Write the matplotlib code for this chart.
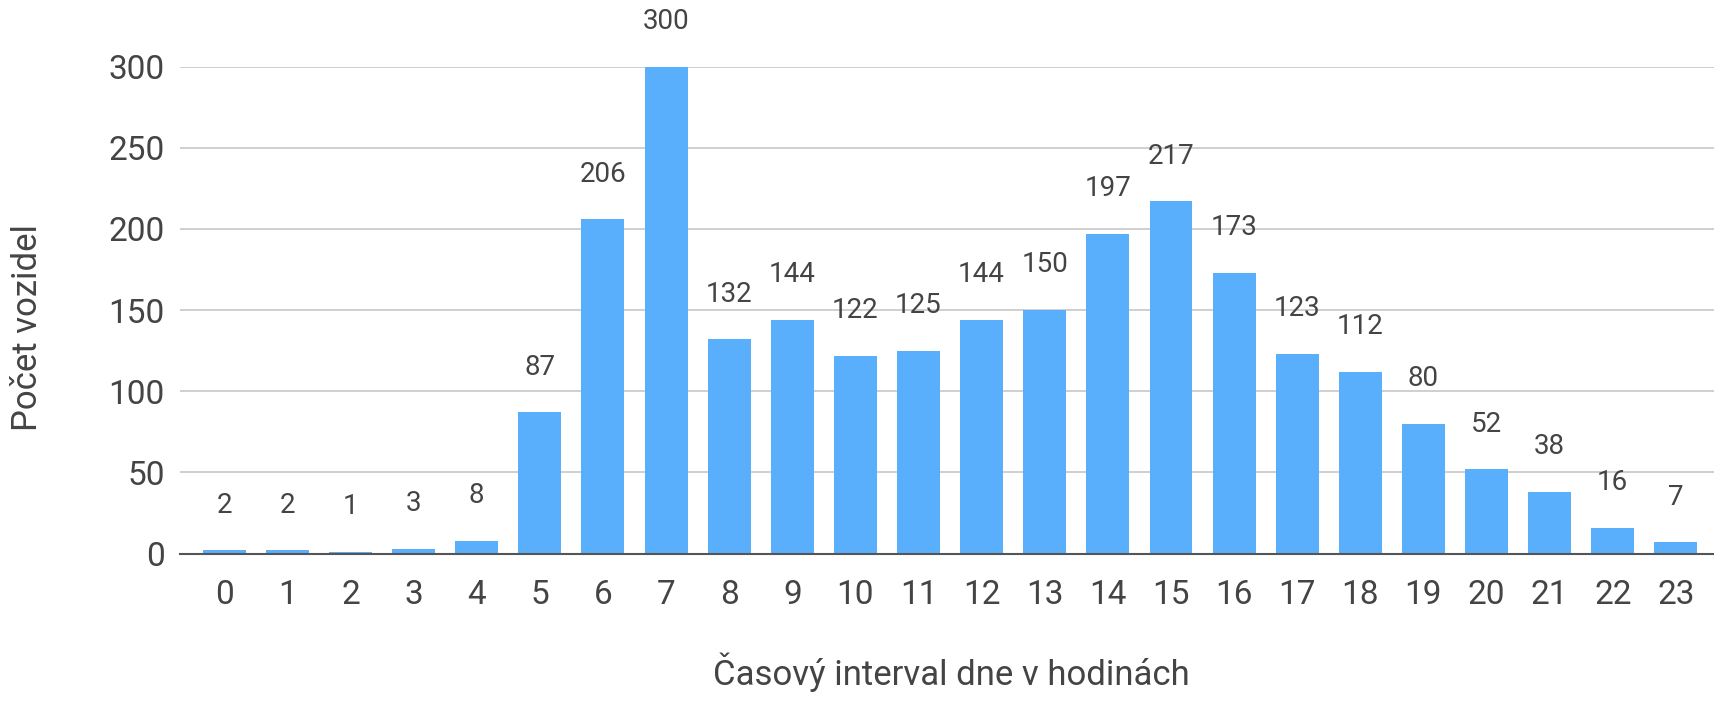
import numpy as np
import matplotlib.pyplot as plt

hours = list(range(24))
vehicles = [2, 2, 1, 3, 8, 87, 206, 300, 132, 144, 122, 125,
            144, 150, 197, 217, 173, 123, 112, 80, 52, 38, 16, 7]
y_ticks = [0, 50, 100, 150, 200, 250, 300]

plt.rcParams['font.family'] = ['Roboto', 'DejaVu Sans']
text_col = '#444444'

fig = plt.figure(figsize=(17.15, 7.02), dpi=100)
ax = fig.add_axes([0.105, 0.2115, 0.895, 0.6935])

bars = ax.bar(hours, vehicles, width=0.68, color='#5aaffd', zorder=3)

# value labels above the bars
for b, v in zip(bars, vehicles):
    ax.annotate(str(v), (b.get_x() + b.get_width() / 2, v),
                xytext=(0, 32.5), textcoords='offset points',
                ha='center', va='center', fontsize=20, color=text_col,
                annotation_clip=False)

ax.set_xlim(-0.7, 23.62)
ax.set_ylim(0, 300)
ax.set_xticks(hours)
ax.set_yticks(y_ticks)
ax.tick_params(axis='x', length=0, pad=18, labelsize=24, labelcolor=text_col)
ax.tick_params(axis='y', length=0, pad=11, labelsize=24, labelcolor=text_col)

ax.grid(axis='y', color='#cccccc', linewidth=1.3, zorder=0)
for s in ['top', 'right', 'left']:
    ax.spines[s].set_visible(False)
ax.spines['bottom'].set_color('#555555')
ax.spines['bottom'].set_linewidth(1.5)
ax.spines['bottom'].set_zorder(4)

fig.text(28 / 1715, 1 - 328 / 702, 'Počet vozidel', rotation=90,
         ha='center', va='center', fontsize=25, color=text_col)
fig.text(951 / 1715, 1 - 685 / 702, 'Časový interval dne v hodinách',
         ha='center', va='baseline', fontsize=25, color=text_col)

fig.savefig('out.png', dpi=100)
